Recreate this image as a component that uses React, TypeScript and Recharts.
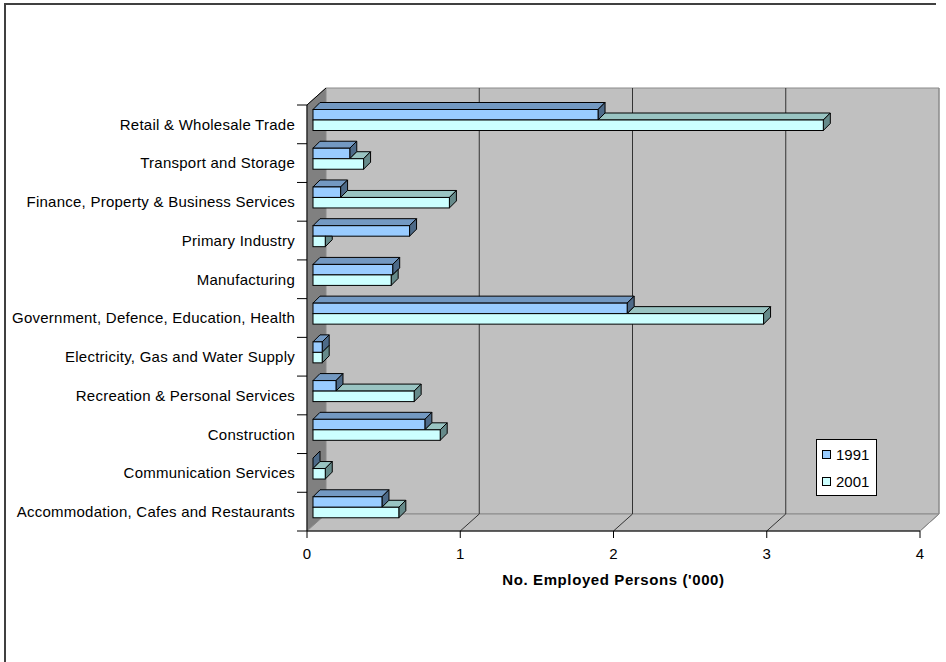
import React from 'react';
import { BarChart, Bar, XAxis, YAxis, CartesianGrid, ReferenceArea, Legend } from 'recharts';

const categories = [
  'Retail & Wholesale Trade',
  'Transport and Storage',
  'Finance, Property & Business Services',
  'Primary Industry',
  'Manufacturing',
  'Government, Defence, Education, Health',
  'Electricity, Gas and Water Supply',
  'Recreation & Personal Services',
  'Construction',
  'Communication Services',
  'Accommodation, Cafes and Restaurants',
];
const employed1991 = [1.86, 0.24, 0.18, 0.63, 0.52, 2.05, 0.06, 0.15, 0.73, 0, 0.45];
const employed2001 = [3.33, 0.33, 0.89, 0.08, 0.51, 2.94, 0.06, 0.66, 0.83, 0.08, 0.56];
const xTicks = [0, 1, 2, 3, 4];
const seriesNames = ['1991', '2001'];
const xTitle = "No. Employed Persons ('000)";

const data = categories.map((name, i) => ({ name, v1991: employed1991[i], v2001: employed2001[i] }));

const FONT = "Arial, 'Liberation Sans', sans-serif";
const WALL_DX = 19;
const WALL_DY = -17;
const SH_X = 6;
const SH_Y = -4.5;
const D = 7;

const C1991 = { front: '#99CCFF', top: '#7399C2', side: '#4D6A88' };
const C2001 = { front: '#CCFFFF', top: '#99C4C2', side: '#668A8A' };

const pts = (arr: number[][]) => arr.map((p) => `${p[0]},${p[1]}`).join(' ');

const Walls = (p: any) => {
  const { x, y, width, height } = p;
  const L = x, T = y, R = x + width, B = y + height;
  return (
    <g>
      <polygon points={pts([[L, T], [L + WALL_DX, T + WALL_DY], [L + WALL_DX, B + WALL_DY], [L, B]])} fill="#808080" stroke="#808080" />
      <polygon points={pts([[L + WALL_DX, T + WALL_DY], [R + WALL_DX, T + WALL_DY], [R + WALL_DX, B + WALL_DY], [L + WALL_DX, B + WALL_DY]])} fill="#C0C0C0" stroke="#8A8A8A" />
      <polygon points={pts([[L, B], [R, B], [R + WALL_DX, B + WALL_DY], [L + WALL_DX, B + WALL_DY]])} fill="#C0C0C0" stroke="#8A8A8A" />
      <line x1={L} y1={T} x2={L + WALL_DX} y2={T + WALL_DY} stroke="#000" />
    </g>
  );
};

const GridV = (p: any) => {
  const { x1, y1, y2, index } = p;
  if (index === 0) return <g key={`gv-${index}`} />;
  const last = index === xTicks.length - 1;
  const col = last ? '#8A8A8A' : '#333';
  return (
    <g key={`gv-${index}`}>
      <line x1={x1 + WALL_DX} y1={y1 + WALL_DY} x2={x1 + WALL_DX} y2={y2 + WALL_DY} stroke={col} />
      <line x1={x1} y1={y2} x2={x1 + WALL_DX} y2={y2 + WALL_DY} stroke={col} />
    </g>
  );
};

const Shape1991 = (p: any) => {
  const { x, y, width, height } = p;
  const x0 = x + SH_X, y0 = y + SH_Y, w = Math.max(width || 0, 0), h = height;
  return (
    <g>
      <polygon points={pts([[x0, y0], [x0 + w, y0], [x0 + w + D, y0 - D], [x0 + D, y0 - D]])} fill={C1991.top} stroke="#000" strokeLinejoin="round" />
      <polygon points={pts([[x0 + w, y0], [x0 + w + D, y0 - D], [x0 + w + D, y0 + h - D], [x0 + w, y0 + h]])} fill={C1991.side} stroke="#000" strokeLinejoin="round" />
      {w > 0 && <rect x={x0} y={y0} width={w} height={h} fill={C1991.front} stroke="#000" />}
    </g>
  );
};

const Shape2001 = (p: any) => {
  const { x, y, width, height, payload } = p;
  const x0 = x + SH_X, y0 = y + SH_Y, w2 = Math.max(width || 0, 0), h = height;
  const per = payload && payload.v2001 > 0 ? w2 / payload.v2001 : 0;
  const w1 = payload ? Math.max(payload.v1991 * per, 0) : 0;
  const a = Math.min(Math.max(w1, w2), w2 + D);
  return (
    <g>
      {w2 > w1 && (
        <polygon points={pts([[x0 + w1, y0], [x0 + w2, y0], [x0 + w2 + D, y0 - D], [x0 + w1 + D, y0 - D]])} fill={C2001.top} stroke="#000" strokeLinejoin="round" />
      )}
      <polygon
        points={pts([[x0 + w2, y0 + h], [x0 + w2, y0], [x0 + a, y0], [x0 + w2 + D, y0 - (w2 + D - a)], [x0 + w2 + D, y0 + h - D]])}
        fill={C2001.side}
        stroke="#000"
        strokeLinejoin="round"
      />
      {w2 > 0 && <rect x={x0} y={y0} width={w2} height={h} fill={C2001.front} stroke="#000" />}
    </g>
  );
};

const YTick = (p: any) => {
  const { x, y, payload, index } = p;
  const off = payload.offset || 0;
  const ax = x + 12;
  const isLast = index === categories.length - 1;
  return (
    <g>
      <line x1={ax - 10} y1={y - off} x2={ax} y2={y - off} stroke="#000" />
      {isLast && <line x1={ax - 10} y1={y + off} x2={ax} y2={y + off} stroke="#000" />}
      <text x={x} y={y} dy="0.355em" textAnchor="end" fontFamily={FONT} fontSize={15} letterSpacing={0.25} fill="#000">
        {payload.value}
      </text>
    </g>
  );
};

const XTitle = (p: any) => {
  const vb = p.viewBox || {};
  return (
    <text x={vb.x + vb.width / 2} y={vb.y + 54} textAnchor="middle" fontFamily={FONT} fontSize={15} fontWeight="bold" letterSpacing={0.6} fill="#000">
      {xTitle}
    </text>
  );
};

const LegendBox = (p: any) => {
  const items = (p.payload && p.payload.length ? p.payload : seriesNames.map((n) => ({ value: n })));
  const fills: Record<string, string> = { '1991': C1991.front, '2001': C2001.front };
  return (
    <div style={{ boxSizing: 'border-box', width: 61, height: 57, border: '1px solid #000', background: '#fff', paddingTop: 1, fontFamily: FONT, fontSize: 15, color: '#000' }}>
      {items.map((it: any) => (
        <div key={it.value} style={{ height: 27, display: 'flex', alignItems: 'center' }}>
          <span style={{ display: 'inline-block', boxSizing: 'border-box', width: 9, height: 9, border: '1px solid #000', background: fills[it.value], marginLeft: 5, marginRight: 5 }} />
          <span>{it.value}</span>
        </div>
      ))}
    </div>
  );
};

export default function App() {
  return (
    <div style={{ position: 'absolute', left: 0, top: 0, width: 946, height: 662, overflow: 'hidden', background: '#fff' }}>
      <div style={{ position: 'absolute', left: 4, top: 3, width: 930, height: 657, borderLeft: '2px solid #404040', borderTop: '2px solid #404040' }} />
      <div style={{ position: 'absolute', left: 0, top: 0 }}>
        <BarChart
          width={946}
          height={662}
          data={data}
          layout="vertical"
          margin={{ top: 105, right: 26, bottom: 71, left: 0 }}
          barSize={10.5}
          barGap={0}
        >
          <ReferenceArea x1={0} x2={4} ifOverflow="visible" shape={Walls} zIndex={-200} />
          <CartesianGrid horizontal={false} vertical={GridV} />
          <XAxis
            type="number"
            domain={[0, 4]}
            ticks={xTicks}
            interval={0}
            height={60}
            tickSize={7}
            tickMargin={10}
            axisLine={{ stroke: '#000' }}
            tickLine={{ stroke: '#000' }}
            tick={{ fill: '#000', fontSize: 15, fontFamily: FONT }}
            label={{ content: XTitle }}
          />
          <YAxis
            type="category"
            dataKey="name"
            width={307}
            tickSize={10}
            tickMargin={2}
            tickLine={false}
            axisLine={{ stroke: '#000' }}
            interval={0}
            tick={YTick}
          />
          <Legend
            layout="horizontal"
            verticalAlign="middle"
            align="center"
            width={61}
            height={57}
            wrapperStyle={{ left: 816, top: 439, width: 61, height: 57 }}
            content={LegendBox}
          />
          <Bar dataKey="v1991" name={seriesNames[0]} fill={C1991.front} shape={Shape1991} isAnimationActive={false} />
          <Bar dataKey="v2001" name={seriesNames[1]} fill={C2001.front} shape={Shape2001} isAnimationActive={false} />
        </BarChart>
      </div>
    </div>
  );
}
